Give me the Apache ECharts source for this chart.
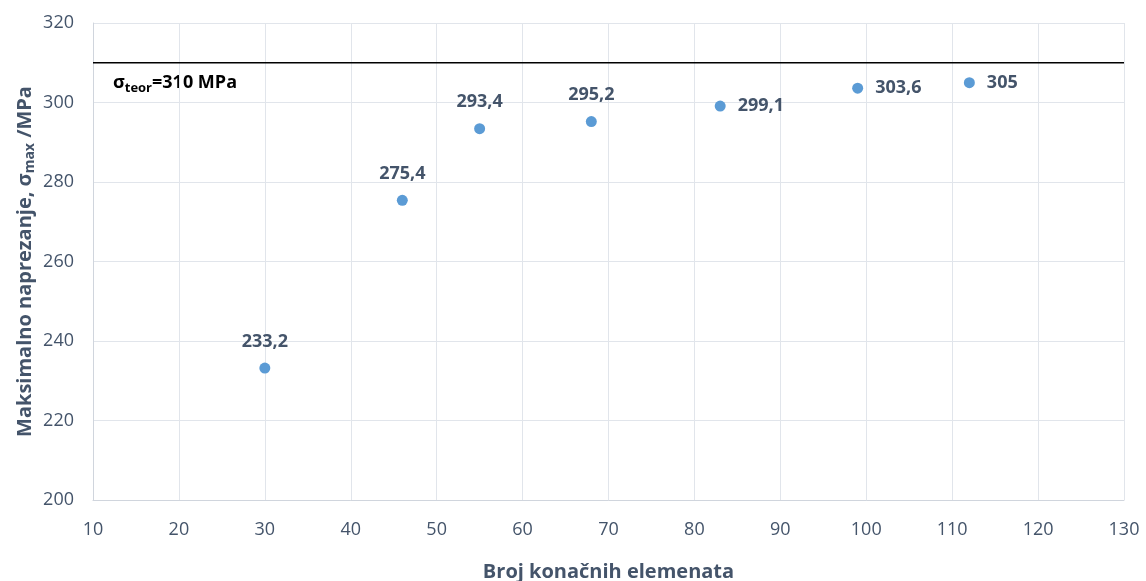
<!DOCTYPE html>
<html lang="hr">
  <meta charset="utf-8" />
  <head>
    <title>Maksimalno naprezanje</title>
    <script src="https://cdn.jsdelivr.net/npm/echarts@6/dist/echarts.min.js"></script>
  </head>
  <style>
    * {
      margin: 0;
      padding: 0;
    }

    body {
      width: 1146px;
      height: 581px;
      background: #fff;
    }

    #main {
      width: 1146px;
      height: 581px;
    }
  </style>
  <body>
    <div id="main"></div>
    <script>
      // number of elements vs. max stress
      const elements = [30, 46, 55, 68, 83, 99, 112];
      const stress = [233.2, 275.4, 293.4, 295.2, 299.1, 303.6, 305];
      const labelSide = ["top", "top", "top", "top", "right", "right", "right"];
      const theoryValue = 310;
      const xRange = [10, 130];

      const textColor = "#44546A";
      const font = "'Open Sans', sans-serif";

      const chart = echarts.init(document.getElementById("main"));

      const points = elements.map((x, i) => ({
        value: [x, stress[i]],
        label: {
          position: labelSide[i],
          distance: 12,
        },
      }));

      const option = {
        animation: false,
        textStyle: { fontFamily: font },
        grid: { left: 93, right: 22, top: 23, bottom: 81, outerBoundsMode: "none" },
        xAxis: {
          type: "value",
          min: xRange[0],
          max: xRange[1],
          interval: 10,
          name: "Broj konačnih elemenata",
          nameLocation: "middle",
          nameGap: 62,
          nameMoveOverlap: false,
          nameTextStyle: { color: textColor, fontSize: 20, fontWeight: "bold", fontFamily: font },
          axisLine: { lineStyle: { color: "#D0D5DD" } },
          axisTick: { show: false },
          axisLabel: { color: textColor, fontSize: 18, margin: 21, fontFamily: font },
          splitLine: { lineStyle: { color: "#E1E5EB" } },
        },
        yAxis: {
          type: "value",
          min: 200,
          max: 320,
          interval: 20,
          name: "{b|Maksimalno naprezanje, σ}{s|max}{b| /MPa}",
          nameLocation: "middle",
          nameGap: 56,
          nameMoveOverlap: false,
          nameTextStyle: {
            rich: {
              b: { color: textColor, fontSize: 20, fontWeight: "bold", fontFamily: font },
              s: { color: textColor, fontSize: 14, fontWeight: "bold", fontFamily: font, padding: [10, 0, 0, 0] },
            },
          },
          axisLine: { show: true, lineStyle: { color: "#D0D5DD" } },
          axisTick: { show: false },
          axisLabel: { color: textColor, fontSize: 18, margin: 19, fontFamily: font },
          splitLine: { lineStyle: { color: "#E1E5EB" } },
        },
        series: [
          {
            type: "line",
            data: [[xRange[0], theoryValue], [xRange[1], theoryValue]],
            symbol: "none",
            lineStyle: { color: "#000", width: 1.5 },
            silent: true,
            z: 1,
          },
          {
            type: "scatter",
            data: points,
            symbolSize: 11,
            itemStyle: { color: "#5B9BD5", opacity: 1 },
            label: {
              show: true,
              color: textColor,
              fontSize: 18,
              fontWeight: "bold",
              fontFamily: font,
              formatter: (p) => String(p.value[1]).replace(".", ","),
            },
            z: 3,
          },
        ],
        graphic: [
          {
            type: "text",
            left: 113,
            top: 74,
            style: {
              text: "{b|σ}{s|teor}{b|=310 MPa}",
              rich: {
                b: { fill: "#000", fontSize: 18, fontWeight: "bold", fontFamily: font },
                s: { fill: "#000", fontSize: 13, fontWeight: "bold", fontFamily: font, padding: [10, 0, 0, 0] },
              },
            },
          },
        ],
      };

      chart.setOption(option);
    </script>
  </body>
</html>
